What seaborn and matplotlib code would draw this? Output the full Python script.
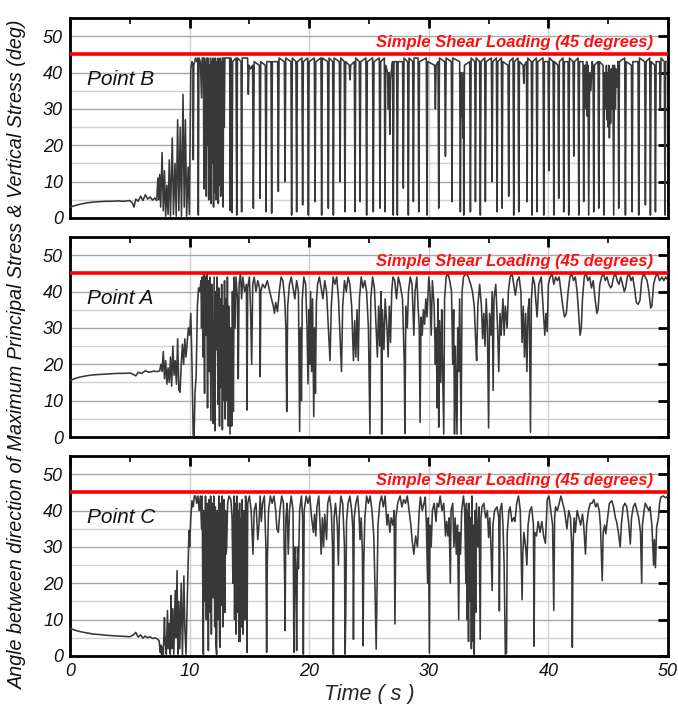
import matplotlib
matplotlib.use("Agg")
import matplotlib.pyplot as plt
from matplotlib.ticker import MultipleLocator
import pandas as pd
import seaborn as sns

# ---------------- data ----------------
time_ticks = [0, 10, 20, 30, 40, 50]
angle_ticks = [0, 10, 20, 30, 40, 50]
shear_angle = 45
shear_label = "Simple Shear Loading (45 degrees)"
panel_names = ["Point B", "Point A", "Point C"]

# (time [s], angle [deg]) vertices
point_b = [
    (0, 3.0), (0.5, 3.5), (1, 3.9), (1.5, 4.2), (2, 4.4), (2.5, 4.5), (3, 4.6), (3.5, 4.6), (4, 4.7),
    (4.5, 4.6), (5, 4.8), (5.2, 4.2), (5.35, 3.0), (5.5, 5.2), (5.7, 4.6), (5.9, 6.0), (6.1, 4.8),
    (6.3, 6.4), (6.5, 5.2), (6.7, 5.8), (6.9, 4.9), (7.1, 5.5), (7.25, 4.8),
    (7.35, 11), (7.42, 5), (7.5, 12), (7.58, 3), (7.7, 18), (7.8, 2), (7.9, 13), (8.0, 0.5), (8.1, 9),
    (8.2, 1), (8.3, 16), (8.4, 0.5), (8.55, 22), (8.65, 1), (8.78, 15), (8.88, 0.5), (9.0, 27), (9.1, 2),
    (9.22, 25), (9.32, 0.5), (9.45, 34), (9.55, 3), (9.65, 27), (9.75, 0.5), (9.88, 14), (9.98, 1),
    (10.1, 41), (10.2, 43), (10.28, 42), (10.31, 16), (10.35, 42), (10.5, 44), (10.6, 43), (10.68, 44),
    (10.73, 0.8), (10.78, 44), (10.9, 43), (11.0, 33), (11.05, 44),
    (11.15, 44), (11.2, 8), (11.25, 44), (11.3, 12), (11.35, 43), (11.4, 6), (11.45, 44), (11.5, 20),
    (11.55, 44), (11.6, 5), (11.65, 42), (11.7, 10), (11.75, 44), (11.8, 4), (11.85, 43), (11.9, 15),
    (11.95, 44), (12.0, 3), (12.05, 42), (12.1, 7), (12.15, 44), (12.2, 5), (12.25, 43), (12.3, 18),
    (12.35, 44), (12.4, 4), (12.45, 42), (12.5, 9), (12.55, 44), (12.6, 6), (12.65, 43), (12.7, 12),
    (12.75, 44), (12.8, 3), (12.85, 44), (12.9, 25), (12.95, 44),
    (13.1, 44), (13.35, 44), (13.4, 2), (13.45, 44), (13.5, 43), (13.55, 1.5), (13.6, 43), (13.88, 44),
    (13.94, 0.8), (14.0, 44), (14.3, 43), (14.35, 1.7), (14.4, 44), (14.85, 44), (14.91, 34), (14.97, 42),
    (15.1, 41), (15.27, 42), (15.33, 2.7), (15.4, 43), (15.83, 42), (15.89, 5.4), (15.95, 43), (16.33, 42),
    (16.39, 1.7), (16.45, 43), (16.8, 43), (16.86, 1.3), (16.92, 43), (17.36, 43), (17.42, 7.3), (17.48, 44),
    (17.92, 43), (17.98, 10), (18.04, 44), (18.47, 43), (18.53, 0.8), (18.59, 44), (18.89, 43), (18.95, 1.7),
    (19.01, 43), (19.39, 44), (19.45, 3.6), (19.51, 43), (19.87, 44), (19.93, 0.8), (19.99, 43), (20.43, 44),
    (20.49, 4.5), (20.55, 43), (20.98, 44), (21.04, 0.8), (21.1, 44), (21.54, 43), (21.6, 2.7), (21.66, 44),
    (21.96, 43), (22.02, 0.8), (22.08, 44), (22.52, 43), (22.58, 10), (22.64, 44), (22.93, 43), (22.99, 1.7),
    (23.05, 43), (23.35, 42), (23.41, 38), (23.47, 42), (23.77, 43), (23.83, 1.7), (23.89, 44), (24.19, 43),
    (24.25, 4.5), (24.31, 43), (24.74, 44), (24.8, 0.8), (24.86, 43), (25.3, 44), (25.36, 1.7), (25.42, 43),
    (25.86, 44), (25.92, 2.7), (25.98, 43), (26.28, 44), (26.34, 1.7), (26.4, 42),
    (26.55, 40), (26.62, 30), (26.68, 40), (26.74, 23), (26.8, 38), (26.92, 42), (26.97, 43), (27.03, 0.8),
    (27.09, 43), (27.31, 43), (27.37, 0.8), (27.43, 43), (27.81, 43), (27.87, 8.2), (27.93, 44), (28.23, 43),
    (28.29, 0.8), (28.35, 44), (28.65, 43), (28.71, 4.5), (28.77, 44),
    (29.1, 44), (29.16, 1.7), (29.22, 43), (29.79, 44), (29.85, 0.8), (29.91, 43), (30.49, 42), (30.55, 30),
    (30.61, 42), (30.77, 43), (30.83, 2.7), (30.89, 44), (31.33, 43), (31.39, 17), (31.45, 44), (31.88, 43),
    (31.94, 4.5), (32.0, 44), (32.58, 43), (32.64, 1.7), (32.7, 40), (32.75, 28), (32.8, 38), (32.85, 22),
    (32.89, 40), (32.92, 0.8), (32.98, 42), (33.42, 43), (33.48, 1.7), (33.54, 44), (33.84, 43), (33.9, 4.5),
    (33.96, 44), (34.25, 43), (34.31, 0.8), (34.37, 43), (34.67, 44), (34.73, 4.5), (34.79, 43), (35.23, 44),
    (35.29, 10), (35.35, 43), (35.65, 44), (35.71, 1.7), (35.77, 43), (36.07, 44), (36.13, 2.7), (36.19, 43),
    (36.62, 42), (36.68, 6), (36.74, 43), (37.04, 44), (37.1, 0.8), (37.16, 43), (37.46, 44), (37.52, 1.7),
    (37.58, 43), (37.88, 42), (37.94, 37), (38.0, 42), (38.16, 43), (38.22, 4.5), (38.28, 44), (38.57, 43),
    (38.63, 0.8), (38.69, 43), (38.99, 44), (39.05, 1.7), (39.11, 43), (39.55, 44), (39.61, 0.8), (39.67, 43),
    (39.97, 43), (40.03, 13), (40.09, 44), (40.39, 43), (40.45, 0.8), (40.51, 43), (40.8, 42), (40.86, 5.4),
    (40.92, 43), (41.22, 44), (41.28, 1.7), (41.34, 43), (41.64, 43), (41.7, 0.8), (41.76, 44), (42.06, 43),
    (42.12, 17), (42.18, 43), (42.48, 44), (42.54, 0.8), (42.6, 43), (42.89, 43), (42.95, 4.5),
    (43.0, 42), (43.05, 30), (43.1, 42), (43.15, 33), (43.2, 43), (43.25, 28), (43.31, 42), (43.37, 0.8),
    (43.45, 40), (43.55, 35), (43.65, 43), (43.73, 42), (43.79, 1.7), (43.85, 42), (44.15, 43), (44.21, 2.7),
    (44.27, 43), (44.57, 42), (44.63, 0.8), (44.7, 40),
    (44.8, 30), (44.85, 42), (44.9, 27), (44.95, 40), (45.0, 25), (45.05, 42), (45.1, 22), (45.15, 38),
    (45.2, 26), (45.25, 41), (45.3, 30), (45.38, 42), (45.46, 0.8), (45.52, 42), (45.6, 30), (45.66, 41),
    (45.75, 36), (45.82, 43), (45.88, 2.7), (45.94, 43), (46.38, 44), (46.44, 0.8), (46.5, 43), (46.94, 42),
    (47.0, 1.7), (47.06, 43), (47.49, 43), (47.55, 0.8), (47.61, 44), (48.05, 43), (48.11, 3.6), (48.17, 43),
    (48.47, 44), (48.53, 0.8), (48.59, 43), (48.89, 42), (48.95, 1.7), (49.01, 43), (49.3, 43), (49.36, 30),
    (49.42, 44), (49.69, 43), (49.75, 0.8), (49.81, 43), (50.0, 43),
]

point_a = [
    (0, 15.5), (0.5, 16.2), (1, 16.6), (1.5, 16.9), (2, 17.1), (2.5, 17.2), (3, 17.3), (3.5, 17.4),
    (4, 17.5), (4.5, 17.5), (5, 17.6), (5.3, 17.2), (5.5, 16.8), (5.7, 17.8), (6, 17.5), (6.3, 18.2),
    (6.6, 17.8), (7, 18.1), (7.3, 18.0), (7.5, 18.2),
    (7.6, 20), (7.7, 18), (7.8, 23.5), (7.9, 16), (8.0, 21), (8.1, 14.5), (8.2, 19), (8.3, 15), (8.4, 22),
    (8.5, 14), (8.6, 25), (8.7, 17), (8.8, 21), (8.9, 14.5), (9.0, 27), (9.1, 13), (9.2, 12.3), (9.3, 20),
    (9.4, 25.5), (9.5, 20), (9.6, 27), (9.7, 22), (9.8, 26), (9.9, 30),
    (10.0, 28), (10.1, 34), (10.2, 20), (10.3, 0.5), (10.38, 0.3), (10.45, 12), (10.55, 17), (10.65, 36),
    (10.75, 41), (10.85, 40), (10.95, 43),
    (11.0, 30), (11.05, 44), (11.12, 22), (11.18, 45), (11.25, 12), (11.3, 44), (11.38, 28), (11.43, 45),
    (11.5, 8), (11.56, 43), (11.63, 18), (11.7, 44), (11.78, 4.5), (11.85, 42), (11.92, 25), (11.98, 3.7),
    (12.05, 44), (12.12, 1.7), (12.18, 40), (12.25, 24), (12.3, 44), (12.38, 9), (12.44, 41), (12.5, 3),
    (12.56, 38), (12.62, 13.6), (12.68, 42), (12.74, 2), (12.8, 36), (12.86, 10), (12.92, 43), (12.98, 5),
    (13.04, 38), (13.1, 10), (13.16, 44), (13.24, 3), (13.3, 36), (13.38, 0.8), (13.45, 30), (13.52, 3),
    (13.58, 40), (13.66, 7), (13.72, 44), (13.8, 30), (13.88, 44), (14.0, 38), (14.07, 16), (14.14, 42),
    (14.25, 45), (14.35, 38), (14.45, 44), (14.6, 40), (14.75, 42), (14.8, 7.4), (14.86, 41), (15.0, 44),
    (15.1, 35), (15.19, 20), (15.28, 42), (15.4, 44), (15.55, 40), (15.7, 43), (15.85, 41), (15.9, 16.6),
    (15.96, 40), (16.1, 42), (16.3, 41), (16.5, 43), (16.7, 40), (16.85, 38), (17.0, 36), (17.1, 34),
    (17.2, 37), (17.35, 34.5), (17.5, 40), (17.65, 44), (17.8, 43), (17.95, 38), (18.05, 30), (18.12, 7),
    (18.2, 36), (18.35, 42), (18.5, 44), (18.65, 41), (18.8, 38), (18.95, 43), (19.1, 40), (19.2, 1.5),
    (19.28, 30), (19.35, 10), (19.42, 38), (19.55, 44), (19.7, 42), (19.82, 30), (19.9, 14.6), (19.98, 35),
    (20.05, 20), (20.12, 40), (20.2, 18), (20.28, 38), (20.38, 5.6), (20.45, 30), (20.52, 12), (20.6, 37),
    (20.7, 42), (20.85, 44), (21.0, 41), (21.15, 38), (21.3, 43), (21.45, 40), (21.6, 30), (21.74, 21),
    (21.85, 36), (22.0, 44), (22.15, 42), (22.3, 44), (22.45, 38), (22.55, 30), (22.7, 18), (22.8, 36),
    (22.95, 43), (23.1, 40), (23.25, 44), (23.4, 42), (23.55, 36), (23.7, 21), (23.8, 32), (23.9, 22),
    (24.0, 35), (24.1, 21), (24.2, 38), (24.35, 44), (24.5, 41), (24.65, 43), (24.8, 40), (24.95, 30),
    (25.08, 0.8), (25.15, 38), (25.3, 44), (25.45, 41), (25.6, 30), (25.7, 22), (25.8, 36), (25.9, 25),
    (26.0, 40), (26.06, 0.8), (26.12, 35), (26.25, 24), (26.35, 38), (26.5, 30), (26.6, 22), (26.7, 36),
    (26.8, 26), (26.9, 40), (27.0, 44), (27.15, 43), (27.3, 38), (27.45, 44), (27.6, 42), (27.8, 38),
    (27.95, 20), (28.0, 1), (28.08, 36), (28.2, 30), (28.3, 40), (28.45, 44), (28.6, 42), (28.75, 28),
    (28.85, 40), (29.0, 44), (29.1, 36), (29.2, 30), (29.27, 4), (29.35, 33), (29.45, 28), (29.55, 35),
    (29.65, 31), (29.75, 38), (29.85, 33), (30.0, 44), (30.1, 40), (30.2, 28), (30.3, 43), (30.45, 36),
    (30.55, 20), (30.62, 30), (30.7, 8), (30.76, 38), (30.83, 2.7), (30.9, 32), (31.0, 15), (31.08, 35),
    (31.15, 20), (31.25, 0.8), (31.32, 38), (31.45, 44), (31.6, 45), (31.75, 43), (31.9, 40), (32.0, 20),
    (32.08, 35), (32.15, 0.8), (32.22, 25), (32.3, 12), (32.36, 0.8), (32.42, 30), (32.5, 18), (32.58, 38),
    (32.7, 0.8), (32.78, 40), (32.9, 44),
    (33.1, 45), (33.3, 44), (33.5, 42), (33.65, 40), (33.8, 36), (33.95, 24), (34.0, 21), (34.1, 36),
    (34.25, 42), (34.4, 36), (34.5, 27), (34.6, 34), (34.7, 25), (34.8, 38), (34.9, 30), (35.0, 2.5),
    (35.08, 34), (35.2, 28), (35.3, 40), (35.38, 12.8), (35.45, 38), (35.6, 42), (35.75, 30), (35.85, 18),
    (35.95, 34), (36.05, 28), (36.2, 38), (36.3, 28), (36.4, 36), (36.55, 30), (36.65, 40), (36.8, 44),
    (36.95, 45), (37.1, 42), (37.24, 39), (37.4, 43), (37.55, 44), (37.7, 40), (37.8, 26), (37.9, 36),
    (38.0, 22), (38.1, 34), (38.2, 18), (38.3, 35), (38.4, 38), (38.5, 1.3),
    (38.58, 38), (38.7, 44), (38.85, 42), (39.05, 33), (39.2, 42), (39.4, 44), (39.55, 36), (39.7, 28),
    (39.8, 34), (39.9, 29), (40.0, 42), (40.15, 44), (40.3, 45), (40.45, 42), (40.6, 44), (40.75, 43),
    (40.9, 44), (41.05, 40), (41.2, 36), (41.35, 33), (41.5, 34), (41.65, 40), (41.8, 44), (41.95, 45),
    (42.1, 43), (42.25, 44), (42.4, 40), (42.55, 33), (42.65, 28), (42.75, 30), (42.85, 38), (43.0, 44),
    (43.15, 45), (43.3, 43), (43.45, 44), (43.6, 41), (43.75, 43), (43.9, 38), (44.05, 34), (44.15, 35),
    (44.3, 42), (44.45, 44), (44.6, 45), (44.75, 43), (44.9, 44), (45.05, 42), (45.2, 41), (45.3, 41.5),
    (45.45, 44), (45.6, 45), (45.75, 43), (45.9, 42), (46.05, 44), (46.2, 42), (46.35, 40), (46.45, 41),
    (46.6, 44), (46.75, 45), (46.9, 43), (47.05, 44), (47.2, 41), (47.35, 37), (47.5, 36.5), (47.65, 37.5),
    (47.8, 43), (47.95, 45), (48.1, 44), (48.25, 43), (48.4, 40), (48.55, 35.5), (48.65, 36), (48.8, 42),
    (48.95, 44), (49.1, 45), (49.3, 43), (49.5, 44), (49.65, 43), (49.8, 44), (50.0, 43),
]

point_c = [
    (0, 7.6), (0.5, 7.0), (1, 6.6), (1.5, 6.3), (2, 6.0), (2.5, 5.9), (3, 5.7), (3.5, 5.6), (4, 5.5),
    (4.5, 5.4), (5, 5.3), (5.3, 5.8), (5.5, 6.5), (5.7, 5.2), (5.9, 5.8), (6.1, 4.9), (6.3, 5.5),
    (6.5, 5.0), (6.7, 5.3), (6.9, 4.8), (7.1, 5.0), (7.3, 4.7), (7.45, 4.2),
    (7.55, 1), (7.6, 3), (7.65, 0.5), (7.7, 2.5), (7.8, 0.3), (7.9, 10.6), (7.95, 3), (8.0, 5), (8.05, 0.5),
    (8.15, 12.5), (8.22, 2), (8.3, 9), (8.38, 0.5), (8.45, 16.6), (8.52, 2), (8.6, 13), (8.68, 0.5),
    (8.8, 18), (8.86, 5), (8.95, 23.5), (9.02, 0.5), (9.1, 15), (9.18, 2), (9.3, 20), (9.4, 0.3), (9.52, 22),
    (9.6, 8), (9.7, 0.5), (9.8, 15), (9.88, 26), (9.95, 34.5), (10.0, 30), (10.1, 38), (10.2, 42.7),
    (10.3, 41), (10.4, 44),
    (10.5, 44), (10.6, 42), (10.7, 44), (10.8, 40), (10.9, 44),
    (11.0, 35), (11.05, 44), (11.1, 20), (11.15, 0.5), (11.2, 40), (11.28, 15), (11.33, 44), (11.4, 10),
    (11.46, 42), (11.52, 25), (11.57, 1.5), (11.63, 43), (11.7, 12), (11.76, 44), (11.82, 6), (11.88, 42),
    (11.93, 20), (11.98, 16), (12.03, 44), (12.1, 8), (12.15, 41), (12.2, 3), (12.26, 0.5), (12.32, 40),
    (12.38, 10), (12.44, 44), (12.5, 5), (12.54, 2.4), (12.6, 42), (12.66, 14), (12.72, 44), (12.77, 8),
    (12.82, 21.6), (12.88, 43), (12.95, 12), (13.0, 40), (13.05, 28), (13.1, 30), (13.18, 42), (13.3, 44),
    (13.45, 43), (13.55, 38), (13.62, 20),
    (13.7, 44), (13.76, 10), (13.82, 42), (13.88, 6), (13.94, 44), (14.0, 12), (14.06, 40), (14.12, 4),
    (14.18, 42), (14.21, 4), (14.27, 38), (14.33, 8), (14.39, 43), (14.45, 6), (14.49, 15), (14.55, 40),
    (14.62, 10), (14.68, 44), (14.77, 40), (14.8, 1), (14.86, 42), (15.0, 44), (15.15, 40), (15.3, 28),
    (15.4, 40), (15.55, 42), (15.7, 32), (15.8, 36), (15.9, 44), (16.0, 37), (16.1, 42), (16.25, 44),
    (16.38, 30), (16.44, 1), (16.5, 26), (16.6, 40), (16.75, 44), (16.9, 42), (17.05, 44), (17.2, 40),
    (17.3, 35), (17.42, 34), (17.55, 40), (17.7, 44), (17.85, 42), (17.95, 20), (17.98, 7), (18.05, 38),
    (18.15, 42), (18.25, 28), (18.35, 40), (18.5, 44), (18.65, 40), (18.72, 1), (18.8, 30), (18.88, 23.5),
    (18.95, 1.5), (19.02, 30), (19.1, 24), (19.2, 40), (19.35, 44), (19.45, 38), (19.51, 0.5), (19.58, 40),
    (19.75, 44), (19.9, 42), (20.05, 44), (20.2, 38), (20.35, 34), (20.45, 39), (20.55, 33), (20.65, 41),
    (20.8, 44), (20.9, 37), (21.0, 28), (21.1, 38), (21.2, 30), (21.3, 39), (21.45, 32), (21.55, 42),
    (21.7, 44), (21.85, 40), (21.95, 30), (22.02, 0.5), (22.08, 38), (22.2, 42), (22.35, 36), (22.44, 25),
    (22.52, 38), (22.65, 44), (22.8, 42), (22.95, 30), (23.0, 0.5), (23.06, 12), (23.12, 37), (23.25, 42),
    (23.4, 44), (23.55, 40), (23.65, 35), (23.7, 4.6), (23.76, 38), (23.9, 42), (24.05, 44), (24.15, 40),
    (24.25, 32), (24.35, 38), (24.45, 28), (24.5, 2.8), (24.56, 25), (24.65, 38), (24.8, 44), (24.95, 42),
    (25.1, 44), (25.25, 40), (25.4, 33), (25.5, 19), (25.6, 1.9), (25.68, 20), (25.75, 36), (25.9, 42),
    (26.05, 44), (26.2, 41), (26.35, 44), (26.5, 36), (26.6, 39), (26.75, 34), (26.85, 38), (27.0, 36),
    (27.1, 40), (27.17, 8.8), (27.25, 38), (27.4, 42), (27.6, 44), (27.75, 41), (27.9, 43), (28.05, 42),
    (28.2, 44), (28.35, 40), (28.5, 36), (28.6, 32),
    (28.75, 28), (28.9, 33), (29.05, 30), (29.2, 40), (29.3, 43.7), (29.45, 40), (29.6, 42), (29.7, 43.7),
    (29.8, 36), (29.9, 20), (29.96, 38), (30.02, 14), (30.05, 0.8), (30.1, 36), (30.2, 30), (30.3, 40),
    (30.45, 42), (30.6, 37), (30.7, 42), (30.83, 41), (30.95, 44), (31.1, 40), (31.25, 42), (31.4, 33),
    (31.5, 37), (31.6, 33), (31.7, 38), (31.8, 20), (31.86, 40), (32.0, 42), (32.1, 30), (32.2, 38),
    (32.3, 28), (32.4, 36), (32.5, 10), (32.56, 34), (32.65, 28), (32.75, 40), (32.9, 44), (33.0, 40),
    (33.1, 20), (33.15, 42), (33.2, 10), (33.26, 40), (33.32, 4), (33.38, 42), (33.44, 15), (33.5, 38),
    (33.56, 2), (33.62, 44), (33.68, 4), (33.74, 36), (33.8, 0.5), (33.86, 40), (33.92, 12), (33.98, 42),
    (34.1, 30), (34.2, 41), (34.3, 4.6), (34.36, 38), (34.45, 41), (34.6, 42), (34.75, 38), (34.9, 40),
    (35.0, 32.6), (35.1, 38), (35.2, 30), (35.3, 18), (35.36, 36), (35.5, 40), (35.7, 41), (35.85, 38),
    (35.9, 12.4), (35.96, 40), (36.1, 42), (36.2, 36), (36.3, 25), (36.4, 0.5), (36.5, 0.8), (36.56, 34),
    (36.7, 40), (36.8, 41), (36.95, 37), (37.1, 38), (37.2, 37), (37.35, 42), (37.5, 44), (37.65, 40),
    (37.8, 15.5), (37.86, 28), (37.95, 34), (38.1, 30), (38.2, 25), (38.3, 36), (38.45, 40), (38.6, 41),
    (38.75, 36), (38.8, 2.7), (38.86, 34), (39.0, 33), (39.15, 37), (39.3, 34), (39.45, 37), (39.6, 33),
    (39.75, 31), (39.9, 43), (40.05, 44), (40.2, 40), (40.35, 36), (40.45, 12.5), (40.52, 38), (40.6, 41),
    (40.75, 40), (40.9, 42), (41.05, 44), (41.2, 42), (41.35, 40), (41.55, 35), (41.7, 40), (41.85, 38),
    (41.95, 30), (42.0, 2.4), (42.06, 30), (42.15, 38), (42.25, 34), (42.4, 40), (42.55, 38), (42.7, 36),
    (42.85, 39), (42.95, 36), (43.1, 28), (43.2, 36), (43.35, 40), (43.5, 42), (43.65, 42), (43.8, 43),
    (43.95, 41), (44.1, 42), (44.25, 40), (44.35, 36), (44.5, 20.7), (44.58, 34), (44.7, 36), (44.8, 33.6),
    (44.95, 38), (45.1, 42), (45.3, 42.7), (45.45, 41), (45.6, 38), (45.7, 37), (45.85, 34), (46.0, 30),
    (46.1, 36), (46.25, 41), (46.4, 42), (46.55, 41), (46.7, 37), (46.85, 30.8), (46.95, 38), (47.1, 41),
    (47.25, 42), (47.4, 40), (47.55, 38), (47.7, 34), (47.8, 20), (47.86, 36), (48.0, 40), (48.1, 42),
    (48.25, 41), (48.4, 40), (48.5, 41), (48.65, 36), (48.8, 25), (48.86, 32), (48.95, 24.3), (49.05, 35.4),
    (49.2, 38), (49.3, 42), (49.4, 43.7), (49.6, 44), (49.8, 43.5), (50.0, 44),
]

series = [point_b, point_a, point_c]

# ---------------- styling ----------------
sns.set_theme(style="white")
plt.rcParams["font.family"] = ["Liberation Sans", "DejaVu Sans"]
plt.rcParams["font.style"] = "italic"

W, H = 678, 704
fig = plt.figure(figsize=(W / 100, H / 100), dpi=100)

left_px, right_px = 70, 668
panel_px = [(18, 218), (237, 437), (456, 656)]

trace_color = "#383838"
for i, (pts, name) in enumerate(zip(series, panel_names)):
    top, bot = panel_px[i]
    ax = fig.add_axes([left_px / W, 1 - bot / H, (right_px - left_px) / W, (bot - top) / H])
    df = pd.DataFrame(pts, columns=["time", "angle"])
    sns.lineplot(data=df, x="time", y="angle", ax=ax, estimator=None, sort=False,
                 color=trace_color, linewidth=1.15, zorder=3)
    ax.axhline(shear_angle, color="#ff0000", linewidth=2.6, zorder=4)
    ax.text(48.75, 47.0, shear_label, color="#ff1010", fontsize=12.0, fontweight="bold",
            fontstyle="italic", ha="right", va="baseline", zorder=5)
    ax.text(1.4, 38.0, name, fontsize=15, fontstyle="italic", ha="left", va="center",
            color="#111111", zorder=5)

    ax.set_xlim(0, 50)
    ax.set_ylim(0, 55)
    ax.set_xticks(time_ticks)
    ax.set_yticks(angle_ticks)
    ax.xaxis.set_minor_locator(MultipleLocator(5))
    ax.yaxis.set_minor_locator(MultipleLocator(5))
    ax.set_axisbelow(True)
    ax.grid(which="major", axis="y", color="#a8a8a8", linewidth=1.0)
    ax.grid(which="minor", axis="y", color="#d2d2d2", linewidth=1.0)
    ax.grid(which="major", axis="x", color="#cfcfcf", linewidth=1.0)
    ax.tick_params(which="major", direction="in", length=7, width=2, top=True, right=True,
                   color="black", labelsize=13, pad=5, labelcolor="#111111")
    ax.tick_params(which="minor", direction="in", length=4, width=1.2, top=True, right=True,
                   color="black")
    ax.tick_params(axis="y", which="minor", length=0)
    for lab in ax.get_yticklabels() + ax.get_xticklabels():
        lab.set_fontstyle("italic")
    for sp in ax.spines.values():
        sp.set_color("black")
        sp.set_linewidth(2)
    ax.set_xlabel("")
    ax.set_ylabel("")
    if i < 2:
        ax.tick_params(labelbottom=False)
    else:
        ax.set_xticklabels([str(t) for t in time_ticks], fontstyle="italic")
        ax.set_xlabel("Time ( s )", fontsize=15.5, fontstyle="italic", labelpad=3)

fig.text(0.026, 0.497,
         "Angle between direction of Maximum Principal Stress & Vertical Stress (deg)",
         rotation=90, ha="center", va="center", fontsize=14.2, fontstyle="italic",
         color="#111111")

fig.savefig("out.png", dpi=100)
